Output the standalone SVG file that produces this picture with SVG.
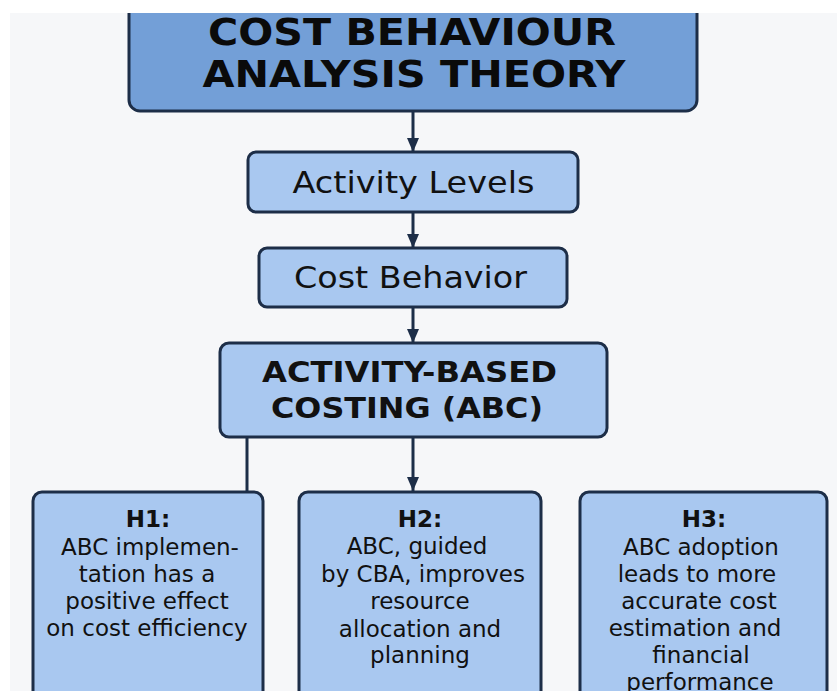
<svg xmlns="http://www.w3.org/2000/svg" width="837" height="691" viewBox="0 0 837 691">
  <defs>
    <style>
      .bg { fill: #f6f7f9; }
      .box { fill: #a9c8f0; stroke: #1d2e48; stroke-width: 3; }
      .top { fill: #739fd7; stroke: #1d2e48; stroke-width: 3; }
      .wire { stroke: #1d2e48; stroke-width: 3; fill: none; }
      .t { font-family: "DejaVu Sans", "Liberation Sans", sans-serif; fill: #111111; text-anchor: middle; }
      .title { font-weight: bold; font-size: 37px; fill: #0a0a0a; }
      .mid { font-size: 30px; }
      .abc { font-weight: bold; font-size: 29px; }
      .hyp { font-size: 23px; }
      .hb { font-weight: bold; font-size: 23px; }
    </style>
    <marker id="arrow" viewBox="0 0 14 12" refX="14" refY="6" markerWidth="14" markerHeight="12" markerUnits="userSpaceOnUse" orient="auto">
      <path d="M0,0 L14,6 L0,12 Z" fill="#1d2e48"/>
    </marker>
  </defs>

  <rect x="0" y="0" width="837" height="691" fill="#ffffff"/>
  <rect class="bg" x="10" y="13" width="827" height="678"/>

  <!-- connectors -->
  <g id="connectors">
    <line class="wire" x1="413" y1="111" x2="413" y2="152" marker-end="url(#arrow)"/>
    <line class="wire" x1="413" y1="212" x2="413" y2="248" marker-end="url(#arrow)"/>
    <line class="wire" x1="413" y1="307" x2="413" y2="343" marker-end="url(#arrow)"/>
    <line class="wire" x1="413" y1="437" x2="413" y2="491" marker-end="url(#arrow)"/>
    <line class="wire" x1="247" y1="437" x2="247" y2="492"/>
  </g>

  <!-- theory header -->
  <g id="node-theory">
    <rect class="top" x="129" y="-20" width="568" height="131" rx="11"/>
    <text class="t title" x="412" y="45" textLength="408" lengthAdjust="spacingAndGlyphs">COST BEHAVIOUR</text>
    <text class="t title" x="414" y="87" textLength="423" lengthAdjust="spacingAndGlyphs">ANALYSIS THEORY</text>
  </g>

  <g id="node-activity-levels">
    <rect class="box" x="248" y="152" width="330" height="60" rx="8"/>
    <text class="t mid" x="413.5" y="193" textLength="242" lengthAdjust="spacingAndGlyphs">Activity Levels</text>
  </g>

  <g id="node-cost-behavior">
    <rect class="box" x="259" y="248" width="308" height="59" rx="8"/>
    <text class="t mid" x="410.5" y="288" textLength="233" lengthAdjust="spacingAndGlyphs">Cost Behavior</text>
  </g>

  <g id="node-abc">
    <rect class="box" x="220" y="343" width="387" height="94" rx="9"/>
    <text class="t abc" x="409.5" y="382" textLength="295" lengthAdjust="spacingAndGlyphs">ACTIVITY-BASED</text>
    <text class="t abc" x="407" y="418" textLength="272" lengthAdjust="spacingAndGlyphs">COSTING (ABC)</text>
  </g>

  <!-- hypotheses -->
  <g id="node-h1">
    <rect class="box" x="33" y="492" width="230" height="230" rx="9"/>
    <text class="t hb" x="148" y="527">H1:</text>
    <text class="t hyp" x="150" y="555">ABC implemen-</text>
    <text class="t hyp" x="147" y="582">tation has a</text>
    <text class="t hyp" x="147" y="609">positive effect</text>
    <text class="t hyp" x="147" y="636">on cost efficiency</text>
  </g>

  <g id="node-h2">
    <rect class="box" x="299" y="492" width="242" height="230" rx="9"/>
    <text class="t hb" x="420" y="527">H2:</text>
    <text class="t hyp" x="417" y="554">ABC, guided</text>
    <text class="t hyp" x="423" y="582">by CBA, improves</text>
    <text class="t hyp" x="420" y="609">resource</text>
    <text class="t hyp" x="420" y="637">allocation and</text>
    <text class="t hyp" x="420" y="663">planning</text>
  </g>

  <g id="node-h3">
    <rect class="box" x="580" y="492" width="247" height="230" rx="9"/>
    <text class="t hb" x="704" y="527">H3:</text>
    <text class="t hyp" x="701" y="555">ABC adoption</text>
    <text class="t hyp" x="697" y="582">leads to more</text>
    <text class="t hyp" x="699" y="609">accurate cost</text>
    <text class="t hyp" x="695" y="636">estimation and</text>
    <text class="t hyp" x="701" y="663">financial</text>
    <text class="t hyp" x="700" y="690">performance</text>
  </g>

  <!-- page margin -->
  <rect x="0" y="0" width="837" height="13" fill="#ffffff"/>
</svg>
